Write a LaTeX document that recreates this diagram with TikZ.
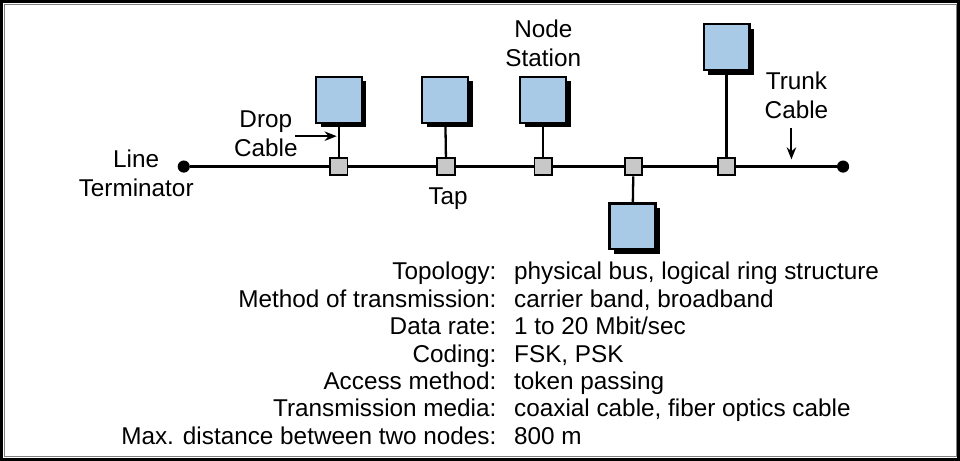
\documentclass[tikz,border=0pt]{standalone}
\usepackage{fontspec}
\setmainfont{Liberation Sans}
\usepackage{tikz}
\usetikzlibrary{positioning, arrows.meta, shadows}

\definecolor{stationblue}{RGB}{168,202,230}
\definecolor{tapgray}{RGB}{200,200,200}

\begin{document}
\begin{tikzpicture}[x=0.75pt, y=-0.75pt,
    font=\fontsize{18}{21.5}\selectfont,
    station/.style={draw, line width=1.7pt, fill=stationblue, minimum size=34pt, inner sep=0pt,
        drop shadow={shadow xshift=3.5pt, shadow yshift=-3.5pt, fill=black, opacity=1}},
    tap/.style={draw, line width=1.4pt, fill=tapgray, minimum size=13pt, inner sep=0pt},
    term/.style={circle, fill=black, inner sep=0pt, minimum size=9pt},
    cable/.style={line width=1.7pt},
    lbl/.style={align=center, inner sep=0pt},
    pointer/.style={line width=1.4pt, -{Stealth[length=9pt, width=7pt]}}]

    % Rahmen
    \draw[line width=2.2pt] (12,8) rectangle (957,460);
    \draw[gray, line width=0.6pt] (14.5,10.5) rectangle (954.5,457.5);

    % Abschlusswiderstaende und Bus
    \node[term] (termL) at (192,171) {};
    \node[term] (termR) at (843,171) {};
    \foreach \name/\x in {tapA/345, tapB/451, tapC/547, tapD/636, tapE/728}
        \node[tap] (\name) at (\x,171) {};
    \draw[cable] (termL) -- (tapA) -- (tapB) -- (tapC) -- (tapD) -- (tapE) -- (termR);

    % Stationen
    \node[station] (stA) at (345,105) {};
    \node[station] (stB) at (450,105) {};
    \node[station] (stC) at (547,105) {};
    \node[station] (stD) at (635,230) {};
    \node[station] (stE) at (728,53) {};
    \foreach \s/\t in {stA/tapA, stB/tapB, stC/tapC, stD/tapD, stE/tapE}
        \draw[cable] (\s) -- (\t);

    % Beschriftungen
    \node[lbl] (lineterm) at (145,178) {Line\\Terminator};
    \node[lbl] (tapname) at (453,203) {Tap};
    \node[lbl] (nodestation) at (547,49) {Node\\Station};
    \node[lbl] (dropcable) at (273,139) {Drop\\Cable};
    \node[lbl] (trunkcable) at (797,101) {Trunk\\Cable};

    \coordinate (dropstart) at (302,141);
    \coordinate (dropend) at (343,141);
    \draw[pointer] (dropstart) -- (dropend);
    \coordinate (trunkstart) at (792,133);
    \coordinate (trunkend) at (792,164);
    \draw[pointer] (trunkstart) -- (trunkend);

    % Kenndaten
    \foreach \i/\lab/\val in {
        0/Topology:/{physical bus, logical ring structure},
        1/Method of transmission:/{carrier band, broadband},
        2/Data rate:/{1 to 20 Mbit/sec},
        3/Coding:/{FSK, PSK},
        4/Access method:/{token passing},
        5/Transmission media:/{coaxial cable, fiber optics cable},
        6/Max. distance between two nodes:/{800 m}} {
        \node[anchor=base east, inner sep=0pt] (lab\i) at (501,{283+27*\i}) {\lab};
        \node[anchor=base west, inner sep=0pt] (val\i) at (518,{283+27*\i}) {\val};
    }
\end{tikzpicture}
\end{document}
